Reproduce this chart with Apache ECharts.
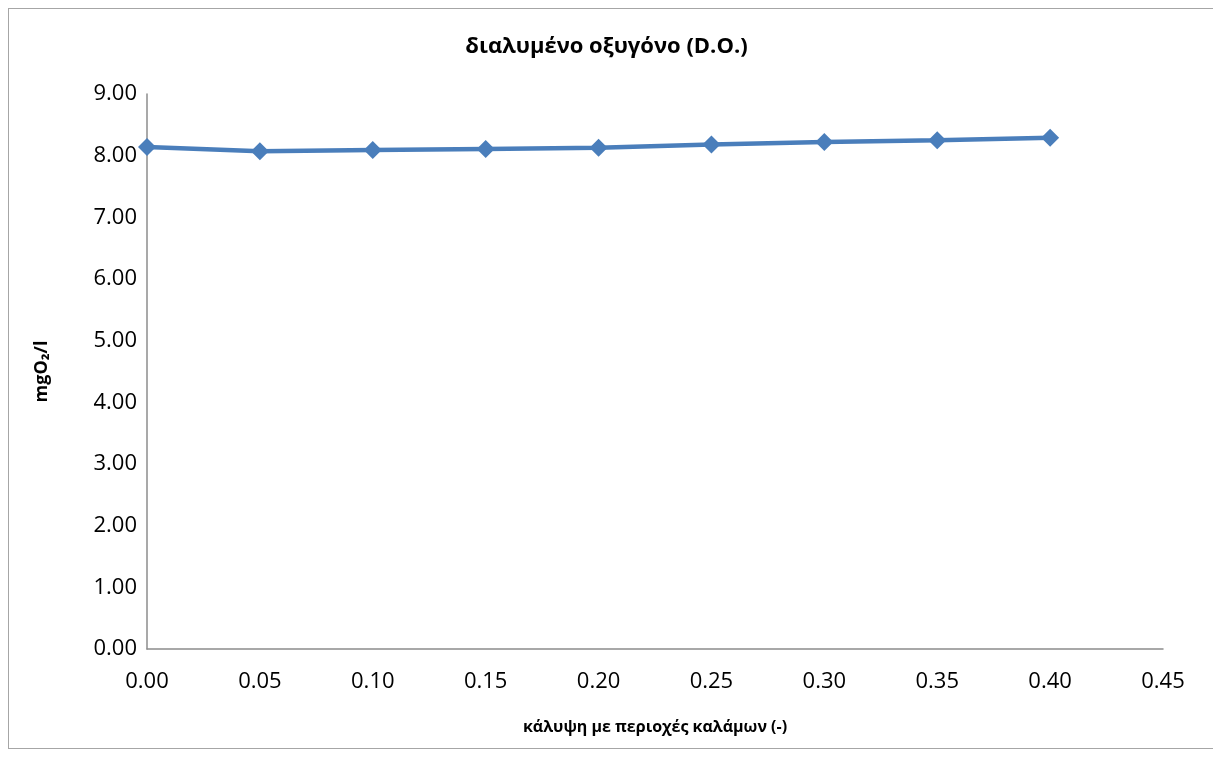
<!DOCTYPE html>
<html>
<head>
<meta charset="utf-8">
<script src="https://cdn.jsdelivr.net/npm/echarts@6/dist/echarts.min.js"></script>
<style>
html,body{margin:0;padding:0;background:#fff;}
#frame{position:absolute;left:8px;top:8px;width:1220px;height:741px;border:1.5px solid #a6a6a6;box-sizing:border-box;}
#chart{position:absolute;left:0;top:0;width:1213px;height:758px;}
</style>
</head>
<body>
<div id="frame"></div>
<div id="chart"></div>
<script>
const xValues = [0.00, 0.05, 0.10, 0.15, 0.20, 0.25, 0.30, 0.35, 0.40];
const doValues = [8.14, 8.07, 8.09, 8.11, 8.13, 8.18, 8.22, 8.25, 8.29];
const titleText = 'διαλυμένο οξυγόνο (D.O.)';
const xAxisName = 'κάλυψη με περιοχές καλάμων (-)';
const yAxisName = 'mgO₂/l';

const chart = echarts.init(document.getElementById('chart'), null, {renderer: 'canvas'});
const fontFam = '"Open Sans", "Noto Sans", sans-serif';
chart.setOption({
  backgroundColor: 'transparent',
  animation: false,
  title: {
    text: titleText,
    left: 'center',
    top: 31,
    textStyle: {fontFamily: fontFam, fontSize: 22, fontWeight: 'bold', color: '#000'}
  },
  grid: {left: 147, right: 50, top: 94, bottom: 109},
  xAxis: {
    type: 'value',
    min: 0, max: 0.45, interval: 0.05,
    name: xAxisName,
    nameLocation: 'middle',
    nameGap: 70,
    nameTextStyle: {fontFamily: fontFam, fontSize: 16, fontWeight: 'bold', color: '#000'},
    axisLine: {show: true, lineStyle: {color: '#8c8c8c', width: 1.5}},
    axisTick: {show: false},
    splitLine: {show: false},
    axisLabel: {
      fontFamily: fontFam, fontSize: 22, color: '#000', margin: 22,
      formatter: v => v.toFixed(2)
    }
  },
  yAxis: {
    type: 'value',
    min: 0, max: 9, interval: 1,
    name: yAxisName,
    nameLocation: 'middle',
    nameGap: 96,
    nameRotate: 90,
    nameTextStyle: {fontFamily: fontFam, fontSize: 18, fontWeight: 'bold', color: '#000'},
    axisLine: {show: true, lineStyle: {color: '#8c8c8c', width: 1.5}},
    axisTick: {show: false},
    splitLine: {show: false},
    axisLabel: {
      fontFamily: fontFam, fontSize: 22, color: '#000', margin: 10,
      formatter: v => v.toFixed(2)
    }
  },
  series: [{
    type: 'line',
    data: xValues.map((x, i) => [x, doValues[i]]),
    symbol: 'diamond',
    symbolSize: 18,
    lineStyle: {color: '#4a7ebb', width: 4.5},
    itemStyle: {color: '#4a7ebb'}
  }]
});
</script>
</body>
</html>
